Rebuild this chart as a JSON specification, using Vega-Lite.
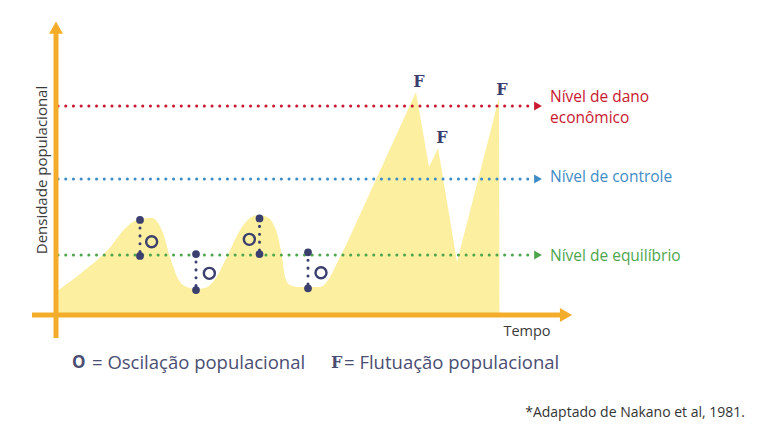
{
  "$schema": "https://vega.github.io/schema/vega-lite/v6.json",
  "width": 768,
  "height": 439,
  "autosize": "none",
  "padding": 0,
  "background": "white",
  "config": {"view": {"stroke": null}, "axis": {"disable": true}, "legend": {"disable": true}},
  "datasets": {
    "curva_suave": [
      {"t": 0, "d": 7.67}, {"t": 5.4, "d": 14.5}, {"t": 10.8, "d": 22.5}, {"t": 13.6, "d": 28.5},
      {"t": 16.2, "d": 31.7}, {"t": 19.2, "d": 32.33}, {"t": 21.4, "d": 27.33}, {"t": 22.8, "d": 19.33},
      {"t": 24.8, "d": 11}, {"t": 26.2, "d": 9.33}, {"t": 28, "d": 8.67}, {"t": 29.8, "d": 9},
      {"t": 31.4, "d": 11}, {"t": 34.2, "d": 19.33}, {"t": 36.8, "d": 28.33}, {"t": 38.8, "d": 32.33},
      {"t": 40.4, "d": 33.33}, {"t": 42.2, "d": 32.67}, {"t": 44.2, "d": 27.33}, {"t": 45.2, "d": 19.33},
      {"t": 45.8, "d": 12.67}, {"t": 46.8, "d": 10}, {"t": 48.8, "d": 9.33}, {"t": 52.8, "d": 9.33},
      {"t": 54.8, "d": 12.67}, {"t": 56.2, "d": 17.33}, {"t": 58.2, "d": 24}
    ],
    "curva_picos": [
      {"t": 58.2, "d": 24}, {"t": 72, "d": 74.33}, {"t": 74.6, "d": 49.33}, {"t": 76.4, "d": 55.67},
      {"t": 80.2, "d": 17.67}, {"t": 88.6, "d": 72.33}, {"t": 88.7, "d": 0}
    ],
    "niveis": [
      {"nivel": "dano", "d": 69.67},
      {"nivel": "controle", "d": 45.33},
      {"nivel": "equilibrio", "d": 20}
    ],
    "rotulos": [
      {"nivel": "dano", "texto": "Nível de dano", "d": 72.6},
      {"nivel": "dano", "texto": "econômico", "d": 65.6},
      {"nivel": "controle", "texto": "Nível de controle", "d": 46},
      {"nivel": "equilibrio", "texto": "Nível de equilíbrio", "d": 19.67}
    ],
    "oscilacoes": [
      {"id": 1, "t": 16.8, "d1": 31.67, "d2": 19.67, "ot": 19.13, "od": 24.44},
      {"id": 2, "t": 28, "d1": 20.33, "d2": 8.33, "ot": 30.67, "od": 13.89},
      {"id": 3, "t": 40.7, "d1": 32.2, "d2": 20.33, "ot": 38.67, "od": 25.22},
      {"id": 4, "t": 50.4, "d1": 20.9, "d2": 8.9, "ot": 53, "od": 14.1}
    ],
    "flutuacoes": [
      {"t": 72.6, "d": 77.67}, {"t": 77.2, "d": 59}, {"t": 89.2, "d": 75}
    ]
  },
  "layer": [
    {
      "data": {"name": "curva_suave"},
      "mark": {"type": "area", "interpolate": "monotone", "color": "#fcef9f"},
      "encoding": {
        "x": {"field": "t", "type": "quantitative", "scale": {"domain": [-11.2, 142.4], "nice": false, "zero": false}},
        "y": {"field": "d", "type": "quantitative", "scale": {"domain": [-41.333, 105], "nice": false, "zero": false}},
        "y2": {"datum": 0}
      }
    },
    {
      "data": {"name": "curva_picos"},
      "mark": {"type": "area", "interpolate": "linear", "color": "#fcef9f"},
      "encoding": {
        "x": {"field": "t", "type": "quantitative"},
        "y": {"field": "d", "type": "quantitative"},
        "y2": {"datum": 0}
      }
    },
    {
      "data": {"name": "niveis"},
      "mark": {"type": "rule", "strokeWidth": 3, "strokeDash": [0.1, 7.6], "strokeCap": "round"},
      "encoding": {
        "x": {"datum": 0.4, "type": "quantitative"},
        "x2": {"datum": 95.2},
        "y": {"field": "d", "type": "quantitative"},
        "color": {"field": "nivel", "type": "nominal", "scale": {"domain": ["dano", "controle", "equilibrio"], "range": ["#c9182f", "#3f8cc6", "#4ea64c"]}}
      }
    },
    {
      "data": {"name": "niveis"},
      "mark": {"type": "point", "shape": "triangle-right", "filled": true, "size": 81, "opacity": 1},
      "encoding": {
        "x": {"datum": 96.4, "type": "quantitative"},
        "y": {"field": "d", "type": "quantitative"},
        "color": {"field": "nivel", "type": "nominal"}
      }
    },
    {
      "data": {"name": "rotulos"},
      "mark": {"type": "text", "align": "left", "baseline": "middle", "font": "Open Sans", "fontSize": 15.5},
      "encoding": {
        "x": {"datum": 98.8, "type": "quantitative"},
        "y": {"field": "d", "type": "quantitative"},
        "text": {"field": "texto"},
        "color": {"field": "nivel", "type": "nominal"}
      }
    },
    {
      "data": {"values": [{}]},
      "mark": {"type": "rule", "color": "#f4ad2b", "strokeWidth": 5},
      "encoding": {
        "x": {"datum": 0, "type": "quantitative"},
        "y": {"datum": -7.67, "type": "quantitative"},
        "y2": {"datum": 94}
      }
    },
    {
      "data": {"values": [{}]},
      "mark": {"type": "rule", "color": "#f4ad2b", "strokeWidth": 5},
      "encoding": {
        "y": {"datum": 0, "type": "quantitative"},
        "x": {"datum": -4.8, "type": "quantitative"},
        "x2": {"datum": 100.8}
      }
    },
    {
      "data": {"values": [{}]},
      "mark": {"type": "point", "shape": "triangle-up", "filled": true, "size": 196, "color": "#f4ad2b", "opacity": 1},
      "encoding": {
        "x": {"datum": 0, "type": "quantitative"},
        "y": {"datum": 95.8, "type": "quantitative"}
      }
    },
    {
      "data": {"values": [{}]},
      "mark": {"type": "point", "shape": "triangle-right", "filled": true, "size": 196, "color": "#f4ad2b", "opacity": 1},
      "encoding": {
        "x": {"datum": 102, "type": "quantitative"},
        "y": {"datum": 0, "type": "quantitative"}
      }
    },
    {
      "data": {"name": "oscilacoes"},
      "mark": {"type": "rule", "color": "#3b3f6e", "strokeWidth": 3, "strokeDash": [0.1, 7.8], "strokeCap": "round"},
      "encoding": {
        "x": {"field": "t", "type": "quantitative"},
        "y": {"field": "d1", "type": "quantitative"},
        "y2": {"field": "d2"}
      }
    },
    {
      "data": {"name": "oscilacoes"},
      "transform": [{"fold": ["d1", "d2"], "as": ["ponta", "dv"]}],
      "mark": {"type": "point", "shape": "circle", "filled": true, "size": 60, "color": "#3b3f6e", "opacity": 1},
      "encoding": {
        "x": {"field": "t", "type": "quantitative"},
        "y": {"field": "dv", "type": "quantitative"}
      }
    },
    {
      "data": {"name": "oscilacoes"},
      "mark": {"type": "point", "shape": "circle", "filled": false, "size": 121, "strokeWidth": 2.4, "color": "#3b3f6e", "opacity": 1},
      "encoding": {
        "x": {"field": "ot", "type": "quantitative"},
        "y": {"field": "od", "type": "quantitative"}
      }
    },
    {
      "data": {"name": "flutuacoes"},
      "mark": {"type": "text", "text": "F", "font": "DejaVu Serif", "fontWeight": "bold", "fontSize": 16, "color": "#3b3f6e", "align": "center", "baseline": "middle"},
      "encoding": {
        "x": {"field": "t", "type": "quantitative"},
        "y": {"field": "d", "type": "quantitative"}
      }
    },
    {
      "data": {"values": [{"texto": "Densidade populacional"}]},
      "mark": {"type": "text", "angle": 270, "font": "Open Sans", "fontSize": 15, "color": "#3a3a3a", "align": "center", "baseline": "middle"},
      "encoding": {
        "x": {"datum": -2.8, "type": "quantitative"},
        "y": {"datum": 48.33, "type": "quantitative"},
        "text": {"field": "texto"}
      }
    },
    {
      "data": {"values": [{"texto": "Tempo"}]},
      "mark": {"type": "text", "font": "Open Sans", "fontSize": 14.5, "color": "#3a3a3a", "align": "center", "baseline": "middle"},
      "encoding": {
        "x": {"datum": 94.2, "type": "quantitative"},
        "y": {"datum": -5.67, "type": "quantitative"},
        "text": {"field": "texto"}
      }
    },
    {
      "data": {"values": [{"texto": "O"}]},
      "mark": {"type": "text", "font": "Open Sans", "fontWeight": "bold", "fontSize": 17, "color": "#4a4e72", "align": "left", "baseline": "middle"},
      "encoding": {
        "x": {"datum": 3.2, "type": "quantitative"},
        "y": {"datum": -16, "type": "quantitative"},
        "text": {"field": "texto"}
      }
    },
    {
      "data": {"values": [{"texto": "F"}]},
      "mark": {"type": "text", "font": "DejaVu Serif", "fontWeight": "bold", "fontSize": 16, "color": "#4a4e72", "align": "left", "baseline": "middle"},
      "encoding": {
        "x": {"datum": 55.0, "type": "quantitative"},
        "y": {"datum": -16, "type": "quantitative"},
        "text": {"field": "texto"}
      }
    },
    {
      "data": {"values": [{"texto": "= Oscilação populacional", "t": 7.2}, {"texto": "= Flutuação populacional", "t": 57.6}]},
      "mark": {"type": "text", "font": "Open Sans", "fontSize": 18.5, "color": "#4a4e72", "align": "left", "baseline": "middle"},
      "encoding": {
        "x": {"field": "t", "type": "quantitative"},
        "y": {"datum": -16, "type": "quantitative"},
        "text": {"field": "texto"}
      }
    },
    {
      "data": {"values": [{"texto": "*Adaptado de Nakano et al, 1981."}]},
      "mark": {"type": "text", "font": "Open Sans", "fontSize": 14, "color": "#333333", "align": "right", "baseline": "middle"},
      "encoding": {
        "x": {"datum": 137.8, "type": "quantitative"},
        "y": {"datum": -32.67, "type": "quantitative"},
        "text": {"field": "texto"}
      }
    }
  ]
}
